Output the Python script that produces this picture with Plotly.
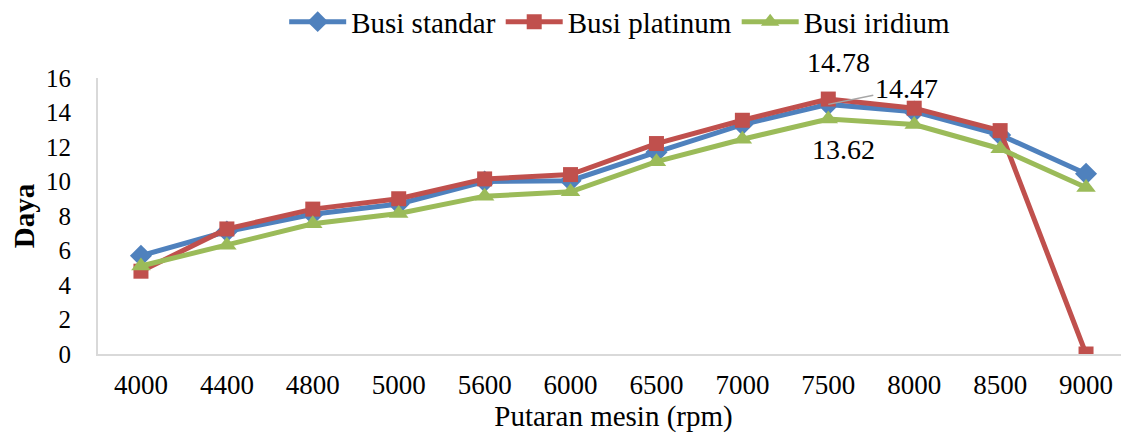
import plotly.graph_objects as go

rpm = ["4000", "4400", "4800", "5000", "5600", "6000", "6500", "7000", "7500", "8000", "8500", "9000"]
busi_standar = [5.7, 7.1, 8.1, 8.7, 10.0, 10.05, 11.7, 13.3, 14.47, 14.05, 12.7, 10.45]
busi_platinum = [4.8, 7.25, 8.4, 9.0, 10.15, 10.4, 12.2, 13.55, 14.78, 14.25, 12.95, 0]
busi_iridium = [5.1, 6.3, 7.55, 8.15, 9.15, 9.4, 11.15, 12.45, 13.62, 13.3, 11.9, 9.65]
y_ticks = [0, 2, 4, 6, 8, 10, 12, 14, 16]

FONT = "Liberation Serif, Times New Roman, serif"
fig = go.Figure()
series = [
    ("Busi standar", busi_standar, "#4F81BD", "diamond", 17),
    ("Busi platinum", busi_platinum, "#C0504D", "square", 15),
    ("Busi iridium", busi_iridium, "#9BBB59", "triangle-up", 17),
]
for name, vals, col, sym, sz in series:
    fig.add_trace(go.Scatter(
        x=list(range(len(rpm))), y=vals, name=name, mode="lines+markers",
        line=dict(color=col, width=5),
        marker=dict(symbol=sym, size=sz, color=col),
    ))

i75 = rpm.index("7500")
afont = dict(family=FONT, size=28, color="black")
fig.add_annotation(x=i75, y=busi_platinum[i75], text=f"{busi_platinum[i75]:.2f}",
                   showarrow=False, yshift=37, xshift=10, font=afont)
fig.add_annotation(x=i75, y=busi_standar[i75], text=f"{busi_standar[i75]:.2f}",
                   showarrow=True, arrowhead=0, arrowcolor="#A6A6A6", arrowwidth=1.5,
                   ax=78, ay=-16, font=afont)
fig.add_annotation(x=i75, y=busi_iridium[i75], text=f"{busi_iridium[i75]:.2f}",
                   showarrow=False, yshift=-30, xshift=15, font=afont)

fig.update_layout(
    width=1121, height=433,
    margin=dict(l=90, r=0, t=70, b=87),
    paper_bgcolor="white", plot_bgcolor="white",
    font=dict(family=FONT, size=25, color="black"),
    showlegend=True,
    legend=dict(orientation="h", x=0.506, xanchor="center",
                yref="container", y=0.968, yanchor="middle",
                font=dict(family=FONT, size=29), itemwidth=57, tracegroupgap=0),
    xaxis=dict(
        tickmode="array", tickvals=list(range(len(rpm))), ticktext=rpm,
        range=[-0.5, 11.5], showgrid=False, zeroline=False,
        showline=True, linecolor="#D9D9D9", linewidth=2,
        ticks="", ticklabelstandoff=6,
        tickfont=dict(family=FONT, size=27),
        title=dict(text="Putaran mesin (rpm)", font=dict(family=FONT, size=29), standoff=0),
    ),
    yaxis=dict(
        range=[0, 16], tickvals=y_ticks, showgrid=False, zeroline=False,
        showline=True, linecolor="#D9D9D9", linewidth=2,
        ticks="", ticklabelstandoff=20,
        tickfont=dict(family=FONT, size=25),
        title=dict(text="<b>Daya</b>", font=dict(family=FONT, size=29), standoff=8),
    ),
)
fig.write_html("out.html")
